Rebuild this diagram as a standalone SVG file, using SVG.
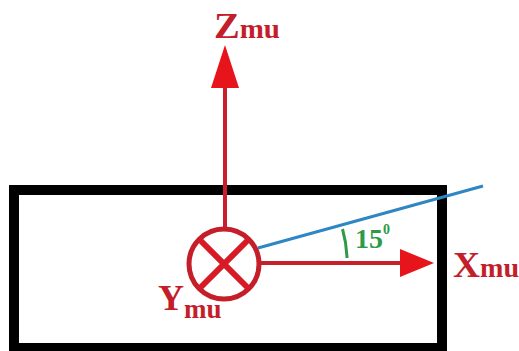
<svg xmlns="http://www.w3.org/2000/svg" width="519" height="351" viewBox="0 0 519 351">
<defs>
<style>
.ax{stroke:#c8202a;stroke-width:4;fill:none}
.head{fill:#e8141c}
.lbl{font-family:"Liberation Serif","Times New Roman",serif;font-weight:bold;fill:#c41e2a;font-size:36px}
.sub{font-size:27px}
.ang{font-family:"Liberation Serif","Times New Roman",serif;font-weight:bold;fill:#2e9a48}
</style>
</defs>
<rect width="519" height="351" fill="#ffffff"/>
<g id="body">
<rect x="14" y="190" width="428" height="158" fill="none" stroke="#000" stroke-width="10"/>
</g>
<g id="connectors">
<line class="ax" x1="225" y1="228" x2="225" y2="86"/>
<polygon class="head" points="225,45 211,88 239,88"/>
<line class="ax" x1="261" y1="263" x2="402" y2="263"/>
<polygon class="head" points="434,263 400,249 400,277"/>
<line x1="258" y1="248" x2="483" y2="186" stroke="#2f86c4" stroke-width="3"/>
<path d="M 342.5 229 A 122 122 0 0 1 347 258" fill="none" stroke="#2e9a48" stroke-width="3"/>
</g>
<g id="origin">
<circle cx="224" cy="264" r="35" fill="none" stroke="#c41e2a" stroke-width="5"/>
<line x1="199" y1="239" x2="249" y2="289" stroke="#d81a24" stroke-width="6"/>
<line x1="249" y1="239" x2="199" y2="289" stroke="#d81a24" stroke-width="6"/>
</g>
<g id="label-z">
<text class="lbl" x="214" y="38" textLength="66" lengthAdjust="spacingAndGlyphs">Z<tspan class="sub">mu</tspan></text>
</g>
<g id="label-x">
<text class="lbl" x="453" y="277" textLength="66" lengthAdjust="spacingAndGlyphs">X<tspan class="sub">mu</tspan></text>
</g>
<g id="label-y">
<text class="lbl" x="158" y="310">Y<tspan class="sub" dy="8">mu</tspan></text>
</g>
<g id="label-angle">
<text class="ang" x="355" y="248" font-size="28">15<tspan font-size="14" dy="-14">0</tspan></text>
</g>
</svg>
